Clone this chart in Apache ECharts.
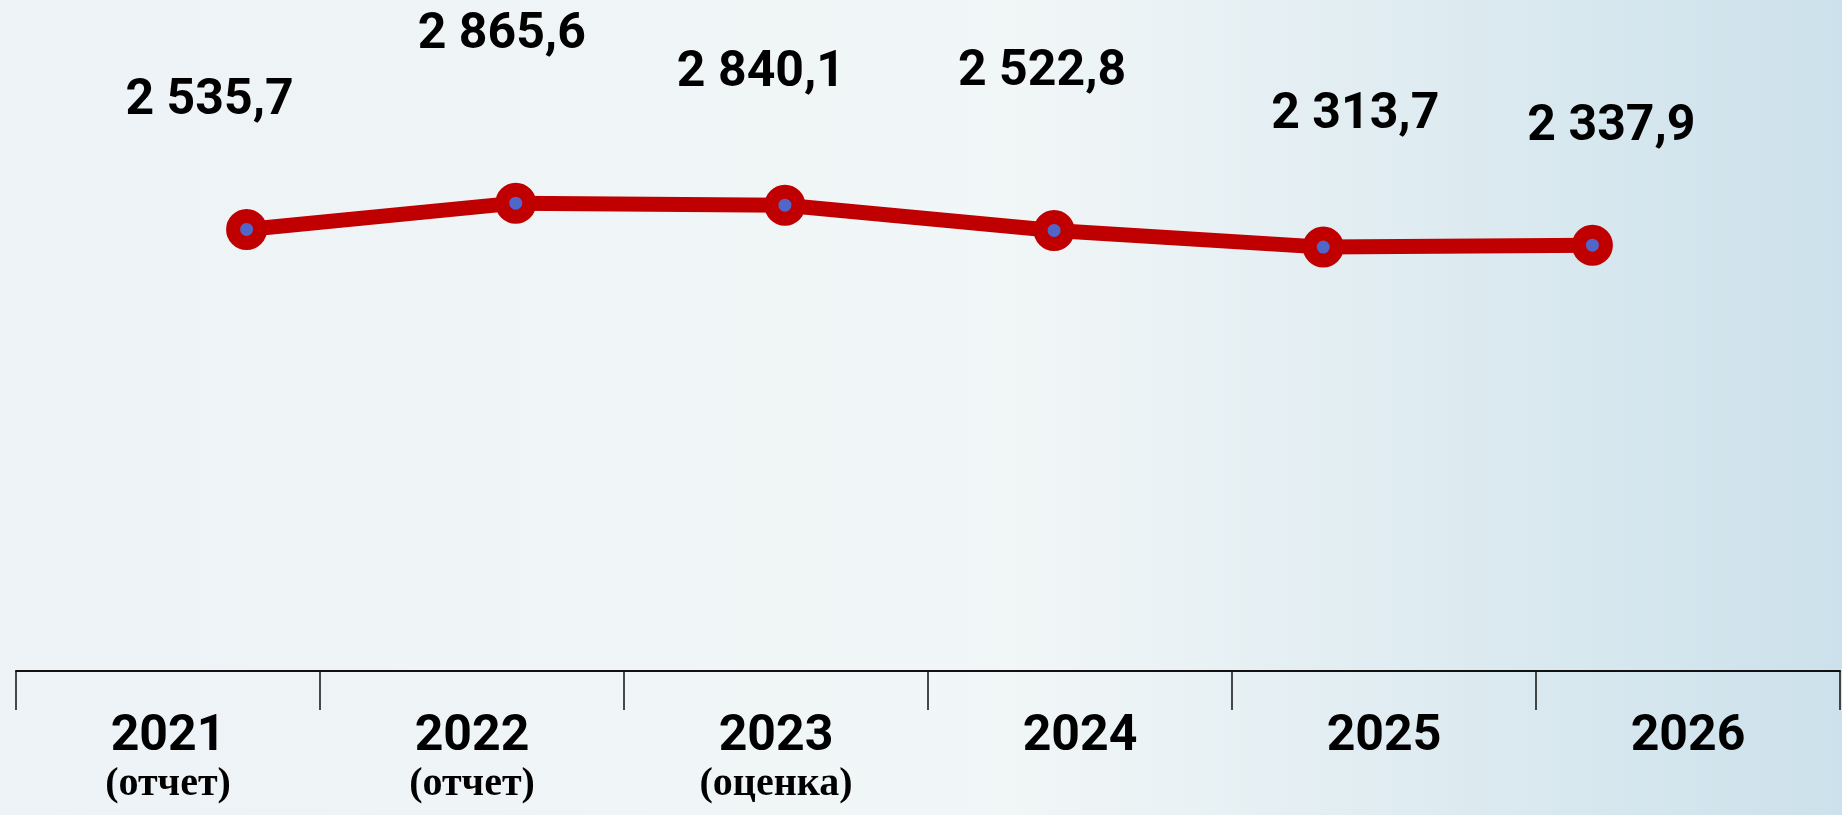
<!DOCTYPE html>
<html>
<head>
<meta charset="utf-8">
<script src="https://cdn.jsdelivr.net/npm/echarts@6/dist/echarts.min.js"></script>
<style>
  html, body { margin: 0; padding: 0; }
  #chart { width: 1842px; height: 815px; }
</style>
</head>
<body>
<div id="chart"></div>
<script>
const years = ['2021', '2022', '2023', '2024', '2025', '2026']
const notes = ['(отчет)', '(отчет)', '(оценка)', '', '', '']
const values = [2535.7, 2865.6, 2840.1, 2522.8, 2313.7, 2337.9]

// labels on the slide were nudged by hand, keep the same shifts (px)
const labelShift = [[-37, -128], [-14, -168], [-24, -132], [-12, -158], [32, -132], [19, -118]]

const fmt = v => v.toFixed(1).replace('.', ',').replace(/\B(?=(\d{3})+(?!\d))/g, ' ')

const chart = echarts.init(document.getElementById('chart'))

const option = {
  backgroundColor: {
    type: 'linear', x: 0, y: 0, x2: 1, y2: 0,
    colorStops: [
      { offset: 0, color: '#EDF3F6' },
      { offset: 0.55, color: '#F1F6F7' },
      { offset: 1, color: '#CCE1EB' }
    ]
  },
  animation: false,
  grid: [
    { left: 112, right: 115, top: 100, height: 200 },
    { left: 16, right: 2, top: 100, bottom: 144 }
  ],
  xAxis: [
    {
      type: 'category',
      gridIndex: 0,
      data: years,
      show: false
    },
    {
      type: 'category',
      gridIndex: 1,
      data: years,
      position: 'bottom',
      axisLine: { show: true, lineStyle: { color: '#111', width: 2 } },
      axisTick: { show: true, interval: 0, length: 39, lineStyle: { color: '#111', width: 1.5 } },
      axisLabel: {
        margin: 40,
        interval: 0,
        formatter: (v, i) => '{y|' + v + '}' + (notes[i] ? '\n{n|' + notes[i] + '}' : ''),
        rich: {
          y: {
            fontFamily: 'Roboto, sans-serif',
            fontWeight: 'bold',
            fontSize: 50,
            color: '#000',
            lineHeight: 52
          },
          n: {
            fontFamily: '"Liberation Serif", serif',
            fontWeight: 'bold',
            fontSize: 40,
            color: '#000',
            lineHeight: 44
          }
        }
      }
    }
  ],
  yAxis: [
    { type: 'value', gridIndex: 0, min: 1650, max: 4160, show: false },
    { type: 'value', gridIndex: 1, show: false }
  ],
  series: [
    {
      type: 'line',
      xAxisIndex: 0,
      yAxisIndex: 0,
      data: values.map((v, i) => ({
        value: v,
        label: { offset: labelShift[i] }
      })),
      symbol: 'circle',
      symbolSize: 27,
      lineStyle: { color: '#C00000', width: 15 },
      itemStyle: { color: '#5067C9', borderColor: '#C00000', borderWidth: 14 },
      label: {
        show: true,
        position: 'inside',
        formatter: p => fmt(p.value),
        fontFamily: 'Roboto, sans-serif',
        fontWeight: 'bold',
        fontSize: 50,
        color: '#000'
      },
      z: 3
    }
  ]
}

chart.setOption(option)
</script>
</body>
</html>
